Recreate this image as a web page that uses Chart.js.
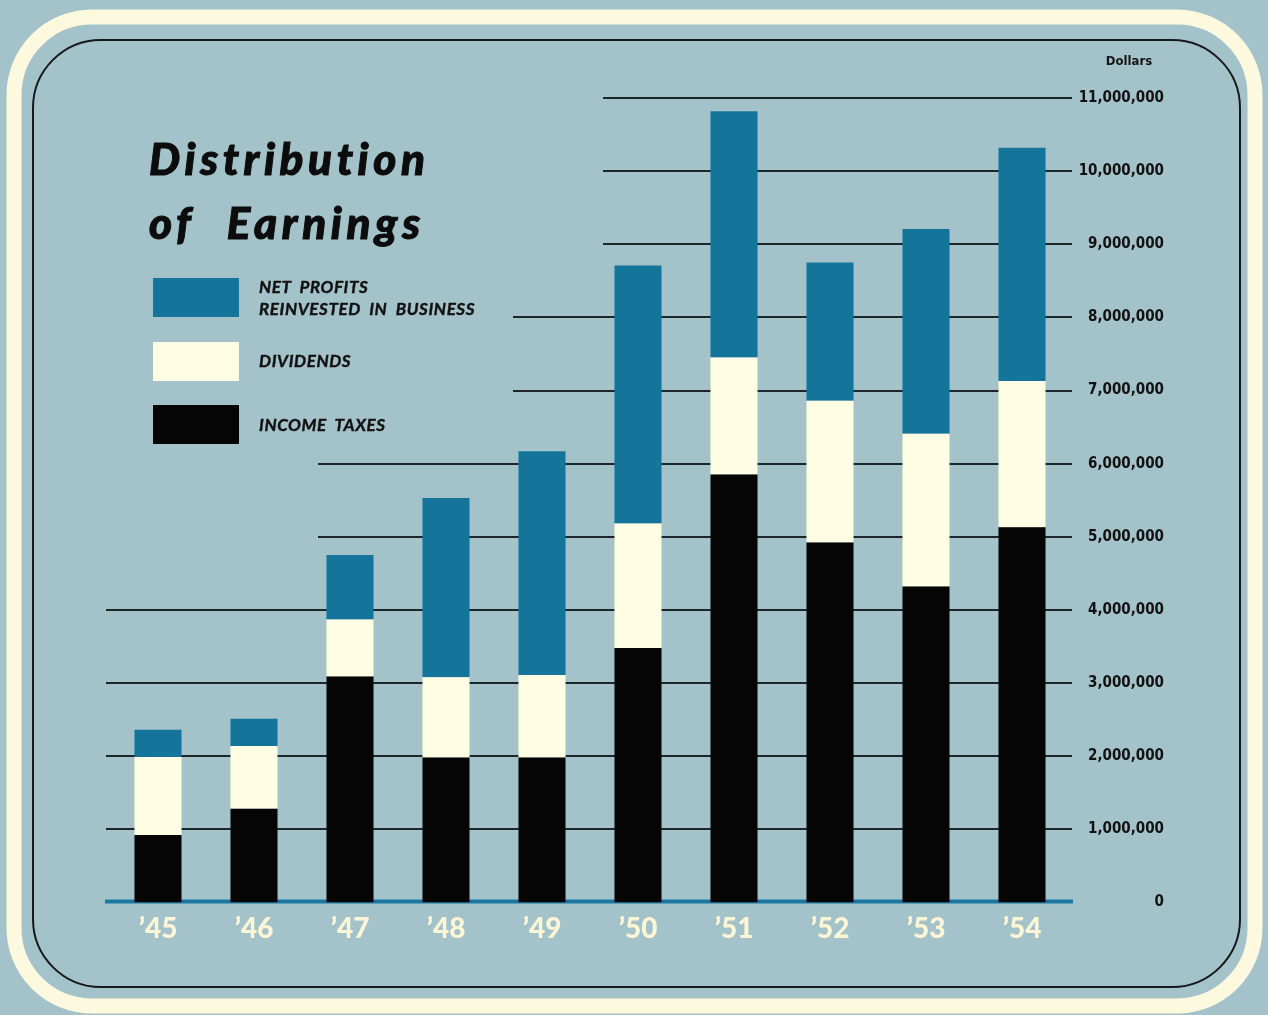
<!DOCTYPE html>
<html>
<head>
<meta charset="utf-8">
<title>Distribution of Earnings</title>
<script src="https://cdn.jsdelivr.net/npm/chart.js@4.4.0/dist/chart.umd.min.js"></script>
<style>
  html, body { margin: 0; padding: 0; background: #a4c2c9; }
  #wrap { position: relative; width: 1268px; height: 1015px; overflow: hidden; }
  #chart { position: absolute; left: 0; top: 0; }
  .title {
    position: absolute; left: 149px; top: 126px;
    font-family: Lato, 'DejaVu Sans', sans-serif; font-weight: 900; font-style: italic;
    font-size: 44px; line-height: 64px; letter-spacing: 4.6px; word-spacing: 18px;
    color: #0c0c0c; white-space: nowrap; -webkit-text-stroke: 1px #0c0c0c;
  }
  .legend { position: absolute; left: 153px; top: 278px; }
  .legend .row { display: flex; align-items: center; height: 39px; margin-bottom: 24.5px; }
  .legend .box { width: 86px; height: 39px; flex: none; }
  .legend .txt {
    margin-left: 20px; font-family: Lato, 'DejaVu Sans', sans-serif; font-weight: 700; font-style: italic;
    font-size: 17px; line-height: 22px; letter-spacing: 0.6px; word-spacing: 4px; color: #111;
    white-space: nowrap; -webkit-text-stroke: 0.4px #111;
  }
  .unit {
    position: absolute; left: 1098px; width: 62px; top: 53px; text-align: center;
    font-family: 'DejaVu Sans Condensed', sans-serif; font-weight: 700;
    font-size: 13px; color: #151515;
  }
</style>
</head>
<body>
<div id="wrap">
  <canvas id="chart" width="1268" height="1015"></canvas>
  <div class="title">Distribution<br>of Earnings</div>
  <div class="legend" id="legend"></div>
  <div class="unit">Dollars</div>
</div>
<script>
// years along the bottom
const years = ["’45", "’46", "’47", "’48", "’49", "’50", "’51", "’52", "’53", "’54"];

// dollars
const incomeTaxes = [920000, 1280000, 3090000, 1980000, 1980000, 3480000, 5850000, 4920000, 4320000, 5130000];
const dividends = [1070000, 860000, 780000, 1100000, 1130000, 1700000, 1600000, 1940000, 2090000, 2000000];
const netProfits = [370000, 370000, 880000, 2450000, 3060000, 3530000, 3370000, 1890000, 2800000, 3190000];

// legend text, one entry per line
const taxLabel = ["INCOME TAXES"];
const divLabel = ["DIVIDENDS"];
const profitLabel = ["NET PROFITS", "REINVESTED IN BUSINESS"];

const yMax = 11000000;
const yStep = 1000000;

const BG = "#a4c2c9";
const BLUE = "#14749a";
const CREAM = "#fffde4";
const BLACK = "#050505";

// background, cream frame and the thin inner outline
const framePlugin = {
  id: "frame",
  beforeDraw(chart) {
    const ctx = chart.ctx;
    ctx.save();
    ctx.fillStyle = BG;
    ctx.fillRect(0, 0, chart.width, chart.height);
    ctx.strokeStyle = "#fdf9df";
    ctx.lineWidth = 15;
    ctx.beginPath();
    ctx.roundRect(14, 17, 1241, 989, 78);
    ctx.stroke();
    ctx.strokeStyle = "#15191a";
    ctx.lineWidth = 2;
    ctx.beginPath();
    ctx.roundRect(33, 40, 1207, 947, 68);
    ctx.stroke();
    ctx.restore();
  }
};

// grid lines stop short on the left, stepping around the title and legend
const partialGrid = {
  id: "partialGrid",
  beforeDatasetsDraw(chart) {
    const { ctx, chartArea, scales } = chart;
    const y = scales.y;
    ctx.save();
    ctx.strokeStyle = "#1c2527";
    ctx.lineWidth = 2;
    y.ticks.forEach(t => {
      if (t.value <= 0) return;
      let x0 = chartArea.left - 4;
      if (t.value > 8000000) x0 = 603;
      else if (t.value > 6000000) x0 = 513;
      else if (t.value > 4000000) x0 = 318;
      const py = Math.round(y.getPixelForValue(t.value));
      ctx.beginPath();
      ctx.moveTo(x0, py);
      ctx.lineTo(chartArea.right + 2, py);
      ctx.stroke();
    });
    // blue base line
    const py0 = y.getPixelForValue(0);
    ctx.strokeStyle = "#1b7aa1";
    ctx.lineWidth = 4;
    ctx.beginPath();
    ctx.moveTo(chartArea.left - 5, py0 - 1);
    ctx.lineTo(chartArea.right + 3, py0 - 1);
    ctx.stroke();
    ctx.restore();
  }
};

const datasets = [
  { label: taxLabel.join(" "), lines: taxLabel, data: incomeTaxes, backgroundColor: BLACK },
  { label: divLabel.join(" "), lines: divLabel, data: dividends, backgroundColor: CREAM },
  { label: profitLabel.join(" "), lines: profitLabel, data: netProfits, backgroundColor: BLUE }
].map(d => Object.assign(d, { borderWidth: 0, barPercentage: 0.49, categoryPercentage: 1 }));

const chart = new Chart(document.getElementById("chart"), {
  type: "bar",
  data: { labels: years, datasets: datasets },
  options: {
    responsive: false,
    animation: false,
    devicePixelRatio: 1,
    events: [],
    layout: { padding: { left: 110, right: 104, top: 98, bottom: 59 } },
    plugins: { legend: { display: false }, tooltip: { enabled: false }, title: { display: false } },
    scales: {
      x: {
        stacked: true,
        grid: { display: false, drawTicks: false },
        border: { display: false },
        ticks: {
          padding: 10,
          color: "#fcf6d6",
          font: { family: "Lato, 'DejaVu Sans', sans-serif", size: 28, weight: "900" }
        }
      },
      y: {
        stacked: true,
        position: "right",
        min: 0,
        max: yMax,
        grid: { display: false, drawTicks: false },
        border: { display: false },
        afterFit(scale) { scale.width = 94; },
        ticks: {
          stepSize: yStep,
          crossAlign: "far",
          color: "#111",
          font: { family: "'DejaVu Sans Condensed', sans-serif", size: 15, weight: "bold" },
          callback: v => v.toLocaleString("en-US")
        }
      }
    }
  },
  plugins: [framePlugin, partialGrid]
});

// html legend, top entry first like the printed key
const legend = document.getElementById("legend");
chart.data.datasets.slice().reverse().forEach(ds => {
  const row = document.createElement("div");
  row.className = "row";
  const box = document.createElement("div");
  box.className = "box";
  box.style.background = ds.backgroundColor;
  const txt = document.createElement("div");
  txt.className = "txt";
  ds.lines.forEach((line, i) => {
    if (i) txt.appendChild(document.createElement("br"));
    txt.appendChild(document.createTextNode(line));
  });
  row.appendChild(box);
  row.appendChild(txt);
  legend.appendChild(row);
});
</script>
</body>
</html>
